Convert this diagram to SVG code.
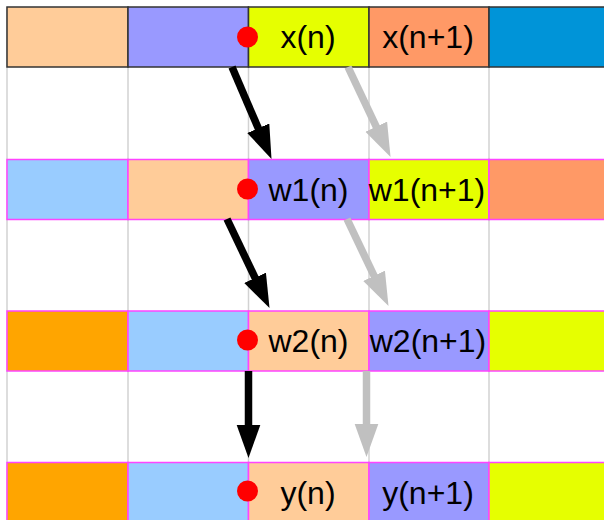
<svg xmlns="http://www.w3.org/2000/svg" width="604" height="520" viewBox="0 0 604 520">
<style>
.grid{stroke:#d2d2d2;stroke-width:1.5}
.c1{stroke:#333333;stroke-width:1.5}
.cm{stroke:#ff44ff;stroke-width:1.5}
.peach{fill:#ffcc99}.lav{fill:#9999ff}.yel{fill:#e6ff00}.sal{fill:#ff9966}.blue{fill:#0094d8}.lblue{fill:#99ccff}.orange{fill:#ffa500}
.lbl{font-family:"Liberation Sans",Arial,sans-serif;font-size:32px;fill:#000;text-anchor:middle}
.dot{fill:#ff0000}
.ab{stroke:#000;stroke-width:7.5;marker-end:url(#hb)}
.ag{stroke:#c0c0c0;stroke-width:7.5;marker-end:url(#hg)}
</style>
<defs>
<marker id="hb" markerUnits="userSpaceOnUse" markerWidth="35" markerHeight="25" refX="13.5" refY="12" orient="auto"><path d="M0,0 L33.5,12 L0,24 z" fill="#000"/></marker>
<marker id="hg" markerUnits="userSpaceOnUse" markerWidth="35" markerHeight="25" refX="13.5" refY="12" orient="auto"><path d="M0,0 L33.5,12 L0,24 z" fill="#c0c0c0"/></marker>
</defs>
<rect width="604" height="520" fill="#fff"/>
<g id="grid">
<line class="grid" x1="7" y1="7" x2="7" y2="520"/>
<line class="grid" x1="128" y1="7" x2="128" y2="520"/>
<line class="grid" x1="248.5" y1="7" x2="248.5" y2="520"/>
<line class="grid" x1="369" y1="7" x2="369" y2="520"/>
<line class="grid" x1="489" y1="7" x2="489" y2="520"/>
</g>
<g id="row1">
<g id="r1c1"><rect class="c1 peach" x="7" y="7" width="121" height="60"/></g>
<g id="r1c2"><rect class="c1 lav" x="128" y="7" width="120.5" height="60"/></g>
<g id="r1c3"><rect class="c1 yel" x="248.5" y="7" width="120.5" height="60"/><text class="lbl" x="308" y="48">x(n)</text></g>
<g id="r1c4"><rect class="c1 sal" x="369" y="7" width="120" height="60"/><text class="lbl" x="428" y="48">x(n+1)</text></g>
<g id="r1c5"><rect class="c1 blue" x="489" y="7" width="130" height="60"/></g>
</g>
<g id="row2">
<g id="r2c1"><rect class="cm lblue" x="7" y="159.5" width="121" height="60"/></g>
<g id="r2c2"><rect class="cm peach" x="128" y="159.5" width="120.5" height="60"/></g>
<g id="r2c3"><rect class="cm lav" x="248.5" y="159.5" width="120.5" height="60"/><text class="lbl" x="308.5" y="200.5">w1(n)</text></g>
<g id="r2c4"><rect class="cm yel" x="369" y="159.5" width="120" height="60"/><text class="lbl" x="427" y="200.5">w1(n+1)</text></g>
<g id="r2c5"><rect class="cm sal" x="489" y="159.5" width="130" height="60"/></g>
</g>
<g id="row3">
<g id="r3c1"><rect class="cm orange" x="7" y="311" width="121" height="60"/></g>
<g id="r3c2"><rect class="cm lblue" x="128" y="311" width="120.5" height="60"/></g>
<g id="r3c3"><rect class="cm peach" x="248.5" y="311" width="120.5" height="60"/><text class="lbl" x="308.5" y="352">w2(n)</text></g>
<g id="r3c4"><rect class="cm lav" x="369" y="311" width="120" height="60"/><text class="lbl" x="428" y="352">w2(n+1)</text></g>
<g id="r3c5"><rect class="cm yel" x="489" y="311" width="130" height="60"/></g>
</g>
<g id="row4">
<g id="r4c1"><rect class="cm orange" x="7" y="462.5" width="121" height="70"/></g>
<g id="r4c2"><rect class="cm lblue" x="128" y="462.5" width="120.5" height="70"/></g>
<g id="r4c3"><rect class="cm peach" x="248.5" y="462.5" width="120.5" height="70"/><text class="lbl" x="308" y="503.5">y(n)</text></g>
<g id="r4c4"><rect class="cm lav" x="369" y="462.5" width="120" height="70"/><text class="lbl" x="428" y="503.5">y(n+1)</text></g>
<g id="r4c5"><rect class="cm yel" x="489" y="462.5" width="130" height="70"/></g>
</g>
<g id="connectors">
<line class="ab" x1="232" y1="67" x2="263.6" y2="140.6"/>
<line class="ag" x1="348" y1="67" x2="382" y2="138.9"/>
<line class="ab" x1="227" y1="219" x2="260.9" y2="290"/>
<line class="ag" x1="347" y1="219" x2="379.9" y2="288"/>
<line class="ab" x1="248.5" y1="371" x2="248.5" y2="438"/>
<line class="ag" x1="366.5" y1="371" x2="366.5" y2="437"/>
</g>
<g id="dots">
<circle class="dot" cx="247.5" cy="37" r="10.5"/>
<circle class="dot" cx="247.5" cy="189" r="10.5"/>
<circle class="dot" cx="247.5" cy="340" r="10.5"/>
<circle class="dot" cx="247.5" cy="491" r="10.5"/>
</g>
</svg>
